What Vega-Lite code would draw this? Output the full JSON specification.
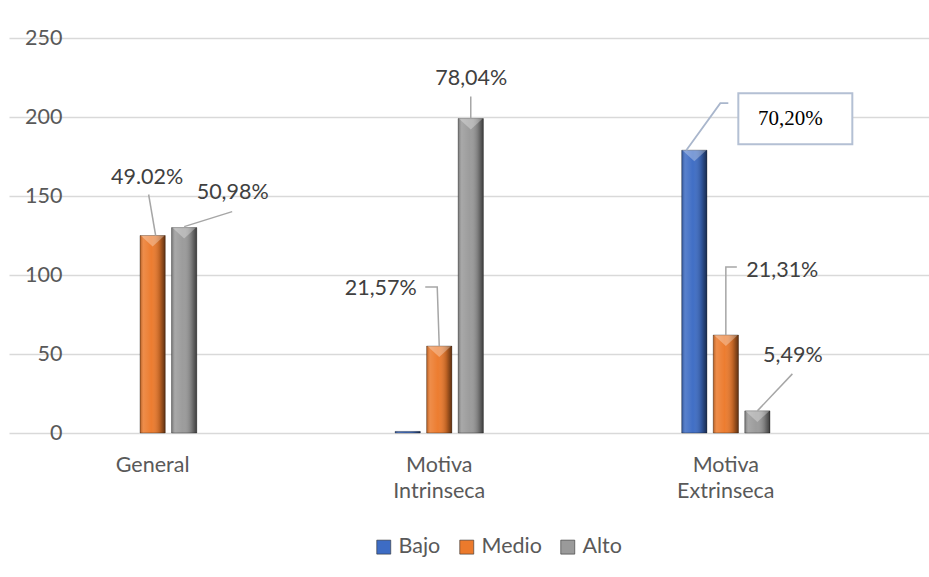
{
  "$schema": "https://vega.github.io/schema/vega-lite/v6.json",
  "width": 850,
  "height": 395,
  "autosize": {"type": "none"},
  "padding": {"left": 79, "top": 38, "right": 0, "bottom": 144},
  "config": {"font": "Lato", "view": {"stroke": null}},
  "datasets": {
    "niveles": [
      {"categoria": "General", "nivel": "Medio", "cantidad": 125, "etiqueta": "49.02%"},
      {"categoria": "General", "nivel": "Alto", "cantidad": 130, "etiqueta": "50,98%"},
      {"categoria": "Motiva Intrinseca", "nivel": "Bajo", "cantidad": 1, "etiqueta": ""},
      {"categoria": "Motiva Intrinseca", "nivel": "Medio", "cantidad": 55, "etiqueta": "21,57%"},
      {"categoria": "Motiva Intrinseca", "nivel": "Alto", "cantidad": 199, "etiqueta": "78,04%"},
      {"categoria": "Motiva Extrinseca", "nivel": "Bajo", "cantidad": 179, "etiqueta": "70,20%"},
      {"categoria": "Motiva Extrinseca", "nivel": "Medio", "cantidad": 62, "etiqueta": "21,31%"},
      {"categoria": "Motiva Extrinseca", "nivel": "Alto", "cantidad": 14, "etiqueta": "5,49%"}
    ]
  },
  "data": {"name": "niveles"},
  "encoding": {
    "x": {
      "field": "categoria",
      "type": "nominal",
      "sort": ["General", "Motiva Intrinseca", "Motiva Extrinseca"],
      "scale": {
        "domain": ["General", "Motiva Intrinseca", "Motiva Extrinseca"],
        "range": [-70, 850],
        "paddingInner": 0.67,
        "paddingOuter": 0.44,
        "align": 0.382
      },
      "axis": {
        "title": null,
        "labelAngle": 0,
        "domain": false,
        "ticks": false,
        "labelFontSize": 21.5,
        "labelColor": "#595959",
        "labelLineHeight": 26,
        "labelPadding": 21,
        "labelBaseline": "top",
        "labelOverlap": false,
        "labelFlush": false,
        "labelBound": false,
        "labelExpr": "split(datum.label, ' ')"
      }
    },
    "xOffset": {
      "field": "nivel",
      "type": "nominal",
      "scale": {"domain": ["Bajo", "Medio", "Alto"], "paddingInner": 0.2, "paddingOuter": 0.1}
    },
    "y": {
      "field": "cantidad",
      "type": "quantitative",
      "scale": {"domain": [0, 250], "nice": false},
      "axis": {
        "title": null,
        "values": [0, 50, 100, 150, 200, 250],
        "grid": true,
        "gridColor": "#d9d9d9",
        "gridWidth": 1.3,
        "domain": false,
        "ticks": false,
        "labelFontSize": 21.5,
        "labelColor": "#595959",
        "labelPadding": 17
      }
    }
  },
  "layer": [
    {
      "mark": {"type": "bar"},
      "encoding": {
        "color": {
          "field": "nivel",
          "type": "nominal",
          "scale": {"domain": ["Bajo", "Medio", "Alto"], "range": ["#3d6cc4", "#ec7a2c", "#9a9a9a"]},
          "legend": {
            "title": null,
            "orient": "none",
            "legendX": 294,
            "legendY": 498,
            "direction": "horizontal",
            "symbolType": "square",
            "symbolSize": 196,
            "symbolStrokeColor": "#303030",
            "symbolStrokeWidth": 0.6,
            "labelFontSize": 21.5,
            "labelColor": "#595959",
            "labelOffset": 4,
            "columnPadding": 15
          }
        }
      }
    },
    {
      "mark": {
        "type": "bar",
        "stroke": "rgba(0,0,0,0.4)",
        "strokeWidth": 0.8,
        "fill": {
          "gradient": "linear",
          "x1": 0, "y1": 0, "x2": 1, "y2": 0,
          "stops": [
            {"offset": 0, "color": "rgba(0,0,0,0.25)"},
            {"offset": 0.14, "color": "rgba(255,255,255,0.14)"},
            {"offset": 0.45, "color": "rgba(255,255,255,0.02)"},
            {"offset": 0.78, "color": "rgba(0,0,0,0.2)"},
            {"offset": 1, "color": "rgba(0,0,0,0.6)"}
          ]
        }
      }
    },
    {
      "transform": [{"filter": "datum.cantidad > 5"}],
      "mark": {"type": "point", "shape": "M-12,0 L12,0 L0,11 Z", "size": 4, "filled": true, "fill": "white", "opacity": 0.3, "strokeWidth": 0}
    },
    {
      "transform": [{"filter": "datum.etiqueta == '49.02%'"}],
      "layer": [
        {"mark": {"type": "point", "shape": "M-4,-41 L3,0", "size": 4, "filled": false, "stroke": "#a6a6a6", "strokeWidth": 1.5, "opacity": 1}},
        {"mark": {"type": "text", "dx": -5.5, "dy": -58, "fontSize": 21.5, "color": "#404040"}, "encoding": {"text": {"field": "etiqueta"}}}
      ]
    },
    {
      "transform": [{"filter": "datum.etiqueta == '50,98%'"}],
      "layer": [
        {"mark": {"type": "point", "shape": "M48,-16 L0,-1", "size": 4, "filled": false, "stroke": "#a6a6a6", "strokeWidth": 1.5, "opacity": 1}},
        {"mark": {"type": "text", "dx": 48.5, "dy": -35, "fontSize": 21.5, "color": "#404040"}, "encoding": {"text": {"field": "etiqueta"}}}
      ]
    },
    {
      "transform": [{"filter": "datum.etiqueta == '78,04%'"}],
      "layer": [
        {"mark": {"type": "point", "shape": "M0,-22 L0,0", "size": 4, "filled": false, "stroke": "#a6a6a6", "strokeWidth": 1.5, "opacity": 1}},
        {"mark": {"type": "text", "dx": 0.5, "dy": -40, "fontSize": 21.5, "color": "#404040"}, "encoding": {"text": {"field": "etiqueta"}}}
      ]
    },
    {
      "transform": [{"filter": "datum.etiqueta == '21,57%'"}],
      "layer": [
        {"mark": {"type": "point", "shape": "M-14,-59 L-2,-59 L0,0", "size": 4, "filled": false, "stroke": "#a6a6a6", "strokeWidth": 1.5, "opacity": 1}},
        {"mark": {"type": "text", "dx": -58.5, "dy": -57, "fontSize": 21.5, "color": "#404040"}, "encoding": {"text": {"field": "etiqueta"}}}
      ]
    },
    {
      "transform": [{"filter": "datum.etiqueta == '70,20%'"}],
      "layer": [
        {"mark": {"type": "point", "shape": "M34,-47 L26,-47 L-8,0", "size": 4, "filled": false, "stroke": "#a9b6cc", "strokeWidth": 1.8, "opacity": 1}},
        {"mark": {"type": "point", "shape": "M44,-57 L158,-57 L158,-6 L44,-6 Z", "size": 4, "filled": true, "fill": "white", "stroke": "#b4c0d4", "strokeWidth": 2, "opacity": 1}},
        {"mark": {"type": "text", "dx": 96, "dy": -31, "fontSize": 21, "font": "Liberation Serif", "color": "#000000"}, "encoding": {"text": {"field": "etiqueta"}}}
      ]
    },
    {
      "transform": [{"filter": "datum.etiqueta == '21,31%'"}],
      "layer": [
        {"mark": {"type": "point", "shape": "M11,-68 L0,-68 L0,0", "size": 4, "filled": false, "stroke": "#a6a6a6", "strokeWidth": 1.5, "opacity": 1}},
        {"mark": {"type": "text", "dx": 56.5, "dy": -64, "fontSize": 21.5, "color": "#404040"}, "encoding": {"text": {"field": "etiqueta"}}}
      ]
    },
    {
      "transform": [{"filter": "datum.etiqueta == '5,49%'"}],
      "layer": [
        {"mark": {"type": "point", "shape": "M35,-37 L0,0", "size": 4, "filled": false, "stroke": "#a6a6a6", "strokeWidth": 1.5, "opacity": 1}},
        {"mark": {"type": "text", "dx": 35.5, "dy": -55, "fontSize": 21.5, "color": "#404040"}, "encoding": {"text": {"field": "etiqueta"}}}
      ]
    }
  ]
}
